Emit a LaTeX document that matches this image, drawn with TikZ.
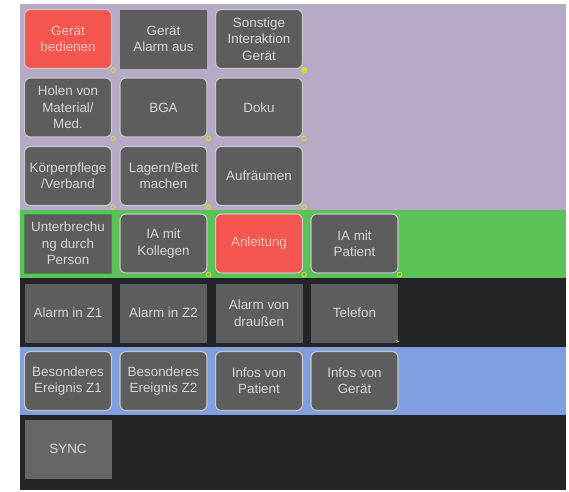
\documentclass[tikz,border=0pt]{standalone}
\usepackage{fontspec}
\setmainfont{Liberation Sans}
\definecolor{bandpurple}{HTML}{B6AAC6}
\definecolor{bandgreen}{HTML}{5BC257}
\definecolor{banddark}{HTML}{222426}
\definecolor{bandblue}{HTML}{7F9FE0}
\definecolor{btngray}{HTML}{5D5D5D}
\definecolor{btnlight}{HTML}{666666}
\definecolor{btnred}{HTML}{F5554F}
\definecolor{btnedge}{HTML}{C6C6C6}
\definecolor{btntext}{HTML}{D6D6D6}
\definecolor{redtext}{HTML}{F9C6BE}
\definecolor{edgegreen}{HTML}{3C8A3A}
\definecolor{markyellow}{HTML}{D9D63A}
\tikzset{
  btn/.style={minimum width=87pt, minimum height=59pt, inner sep=1pt,
    align=center, text=btntext, fill=btngray,
    font=\fontsize{13.4}{16.4}\selectfont},
  roundbtn/.style={btn, rounded corners=6pt, draw=btnedge, line width=1.1pt},
  flatbtn/.style={btn, draw=none},
  redbtn/.style={roundbtn, fill=btnred, text=redtext},
  greenedge/.style={btn, draw=edgegreen, line width=1pt},
  dotmark/.style={circle, draw=markyellow, line width=0.9pt, inner sep=0pt,
    minimum size=4.6pt}
}
\begin{document}
\begin{tikzpicture}[x=1pt, y=-1pt]
\useasboundingbox (0,0) rectangle (569,491);
\fill[white] (0,0) rectangle (569,491);
% coloured bands
\fill[bandpurple] (20,4) rectangle (566,209.5);
\fill[bandgreen] (20,209.5) rectangle (566,278);
\fill[banddark] (20,278) rectangle (566,347);
\fill[bandblue] (20,347) rectangle (566,415);
\fill[banddark] (20,415) rectangle (566,490);
% row 1
\node[redbtn]   (b11) at (68,39)    {Gerät\\bedienen};
\node[flatbtn]  (b12) at (163.5,39) {Gerät\\Alarm aus};
\node[roundbtn] (b13) at (259,39)   {Sonstige\\Interaktion\\Gerät};
% row 2
\node[roundbtn] (b21) at (68,107.5)    {Holen von\\Material/\\Med.};
\node[roundbtn] (b22) at (163.5,107.5) {BGA};
\node[roundbtn] (b23) at (259,107.5)   {Doku};
% row 3
\node[roundbtn] (b31) at (68,176)    {Körperpflege\\/Verband};
\node[roundbtn] (b32) at (163.5,176) {Lagern/Bett\\machen};
\node[roundbtn] (b33) at (259,176)   {Aufräumen};
% green band
\node[greenedge] (g1) at (68,243.5)    {Unterbrechu\\ng durch\\Person};
\node[roundbtn]  (g2) at (163.5,243.5) {IA mit\\Kollegen};
\node[redbtn]    (g3) at (259,243.5)   {Anleitung};
\node[roundbtn]  (g4) at (354.5,243.5) {IA mit\\Patient};
% alarm band
\node[flatbtn] (a1) at (68,313)    {Alarm in Z1};
\node[flatbtn] (a2) at (163.5,313) {Alarm in Z2};
\node[flatbtn] (a3) at (259,313)   {Alarm von\\draußen};
\node[flatbtn] (a4) at (354.5,313) {Telefon};
% blue band
\node[roundbtn] (e1) at (68,381)    {Besonderes\\Ereignis Z1};
\node[roundbtn] (e2) at (163.5,381) {Besonderes\\Ereignis Z2};
\node[roundbtn] (e3) at (259,381)   {Infos von\\Patient};
\node[roundbtn] (e4) at (354.5,381) {Infos von\\Gerät};
% sync
\node[flatbtn, fill=btnlight] (s1) at (68,449) {SYNC};
% small corner markers
\foreach \n in {b11,b21,b22,b23,b31,b32,b33,g2,g3,g4}
  \node[dotmark] at ([xshift=1pt,yshift=-1pt]\n.south east) {};
\node[dotmark, fill=markyellow, minimum size=5.5pt] at ([xshift=1pt,yshift=-1pt]b13.south east) {};
\draw[markyellow, line width=0.9pt] ([xshift=-2pt,yshift=2pt]a4.south east) -- ++(3,1);
\end{tikzpicture}
\end{document}
